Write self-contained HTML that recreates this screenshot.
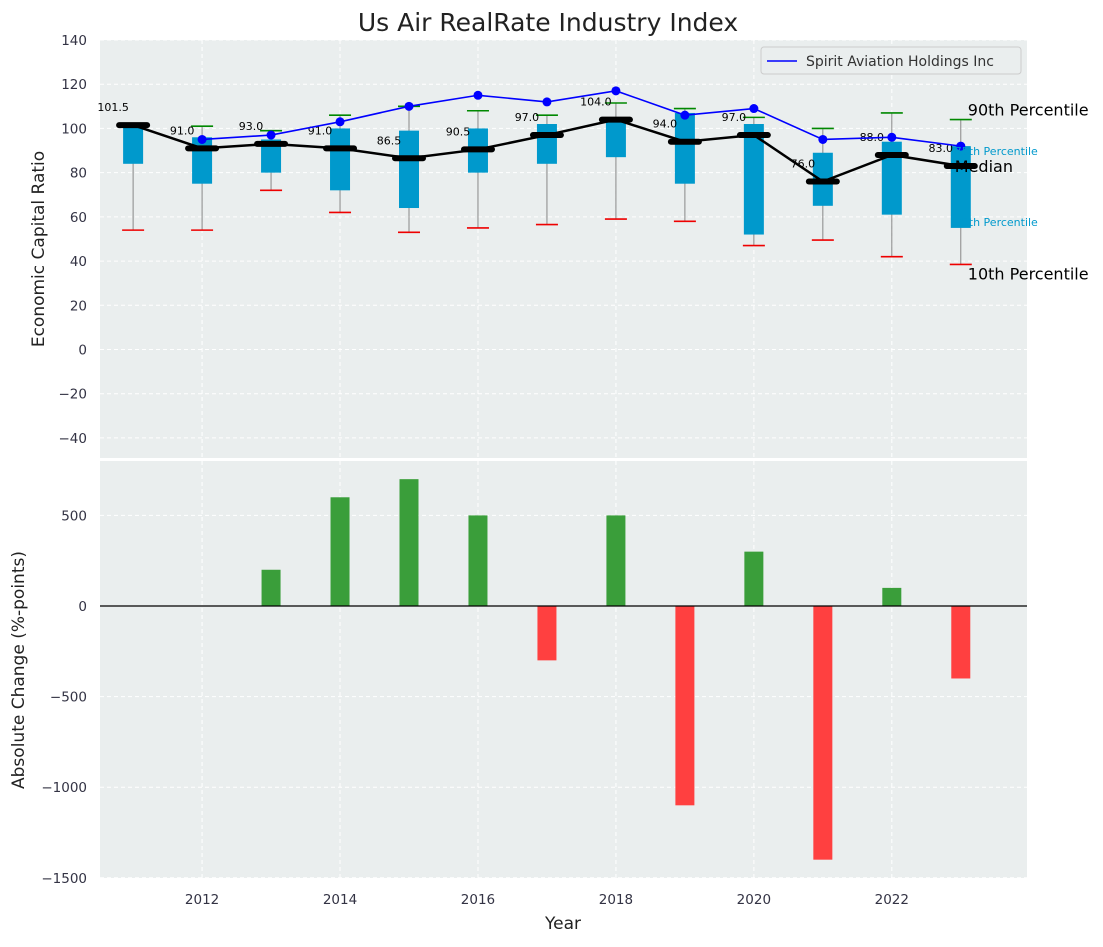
<!DOCTYPE html>
<html><head><meta charset="utf-8"><style>
body{margin:0;background:#fff;font-family:"Liberation Sans","DejaVu Sans",sans-serif}
svg text{font-family:"DejaVu Sans","Liberation Sans",sans-serif}
</style></head><body>
<svg id="c" width="1103" height="942" xmlns="http://www.w3.org/2000/svg"></svg>
<script>
const years=[2011,2012,2013,2014,2015,2016,2017,2018,2019,2020,2021,2022,2023];
const medians=[101.5,91,93,91,86.5,90.5,97,104,94,97,76,88,83];
const p25=[84,75,80,72,64,80,84,87,75,52,65,61,55];
const p75=[101,96,95,100,99,100,102,105,107,102,89,94,92];
const p10=[54,54,72,62,53,55,56.5,59,58,47,49.5,42,38.5];
const p90=[101.5,101,99,106,110,108,106,111.5,109,105,100,107,104];
const company=[null,95,97,103,110,115,112,117,106,109,95,96,92];
const changes=[null,null,200,600,700,500,-300,500,-1100,300,-1400,100,-400];
const topTicks=[-40,-20,0,20,40,60,80,100,120,140];
const botTicks=[-1500,-1000,-500,0,500];
const xTicks=[2012,2014,2016,2018,2020,2022];

const L=100,R=1027;
const X=v=>L+(v-2010.52)*(R-L)/(2023.96-2010.52);
const Y1=v=>349.5-v*2.2107;
const Y2=v=>606-v*0.1812;
const svg=document.getElementById('c');
const NS='http://www.w3.org/2000/svg';
function el(t,a,txt){const e=document.createElementNS(NS,t);for(const k in a)e.setAttribute(k,a[k]);if(txt!=null)e.textContent=txt;svg.appendChild(e);return e;}

let e;
e=el('rect',{x:L,y:40,width:R-L,height:418,fill:'#eaeeee'});


e=el('rect',{x:L,y:461,width:R-L,height:417,fill:'#eaeeee'});



xTicks.forEach(t=>{
  el('line',{x1:X(t),x2:X(t),y1:40,y2:458,stroke:'#fff','stroke-dasharray':'4,3'});
  el('line',{x1:X(t),x2:X(t),y1:461,y2:878,stroke:'#fff','stroke-dasharray':'4,3'});
  e=el('text',{x:X(t),y:904,'text-anchor':'middle','font-size':13.5,fill:'#334'},t);
  
  
});
topTicks.forEach(t=>{
  el('line',{x1:L,x2:R,y1:Y1(t),y2:Y1(t),stroke:'#fff','stroke-dasharray':'4,3'});
  e=el('text',{x:L-13,y:Y1(t)+5,'text-anchor':'end','font-size':13.5,fill:'#334'},t<0?'\u2212'+(-t):t);
  
  
});
botTicks.forEach(t=>{
  el('line',{x1:L,x2:R,y1:Y2(t),y2:Y2(t),stroke:'#fff','stroke-dasharray':'4,3'});
  e=el('text',{x:L-13,y:Y2(t)+5,'text-anchor':'end','font-size':13.5,fill:'#334'},t<0?'\u2212'+(-t):t);
  
  
});

years.forEach((y,i)=>{
  const x=X(y);
  el('line',{x1:x,x2:x,y1:Y1(p10[i]),y2:Y1(p90[i]),stroke:'#888','stroke-width':1});
  e=el('rect',{x:x-10,y:Y1(p75[i]),width:20,height:Y1(p25[i])-Y1(p75[i]),fill:'#0099cc'});
  
  
  el('line',{x1:x-11,x2:x+11,y1:Y1(p10[i]),y2:Y1(p10[i]),stroke:'#e00','stroke-width':1.6});
  el('line',{x1:x-11,x2:x+11,y1:Y1(p90[i]),y2:Y1(p90[i]),stroke:'#080','stroke-width':1.6});
});
e=el('polyline',{points:years.map((y,i)=>X(y)+','+Y1(medians[i])).join(' '),fill:'none',stroke:'#000','stroke-width':2.5});


years.forEach((y,i)=>{
  e=el('line',{x1:X(y)-14,x2:X(y)+14,y1:Y1(medians[i]),y2:Y1(medians[i]),stroke:'#000','stroke-width':6,'stroke-linecap':'round'});
  
  
  e=el('text',{x:X(y)-20,y:Y1(medians[i])-14,'text-anchor':'middle','font-size':11,fill:'#000'},medians[i].toFixed(1));
  
  
});
const cp=years.map((y,i)=>company[i]==null?null:[X(y),Y1(company[i])]).filter(p=>p);
e=el('polyline',{points:cp.map(p=>p.join(',')).join(' '),fill:'none',stroke:'#0000ff','stroke-width':1.6});


cp.forEach(p=>{e=el('circle',{cx:p[0],cy:p[1],r:4.5,fill:'#0000ff'});

});

const x23=X(2023);
[['90th Percentile',x23+7,Y1(p90[12])-4,16,'#000'],['75th Percentile',x23-6,Y1(p75[12])+9,11,'#0099cc'],['Median',x23-6,Y1(medians[12])+6,16,'#000'],['25th Percentile',x23-6,Y1(p25[12])-2,11,'#0099cc'],['10th Percentile',x23+7,Y1(p10[12])+15,16,'#000']].forEach(a=>{
  e=el('text',{x:a[1],y:a[2],'font-size':a[3],fill:a[4]},a[0]);
  
  
});

e=el('rect',{x:761,y:47,width:260,height:27,fill:'#eaeeee',stroke:'#ccc',rx:3});


el('line',{x1:767,x2:797,y1:61,y2:61,stroke:'#0000ff','stroke-width':1.6});
e=el('text',{x:806,y:66,'font-size':14,fill:'#333'},'Spirit Aviation Holdings Inc');



years.forEach((y,i)=>{
  const v=changes[i]; if(v==null)return;
  const y0=Y2(0),yv=Y2(v);
  e=el('rect',{x:X(y)-9.5,y:Math.min(y0,yv),width:19,height:Math.abs(yv-y0),fill:v>=0?'#3a9e3a':'#ff4040'});
  
  
});
el('line',{x1:L,x2:R,y1:Y2(0),y2:Y2(0),stroke:'#000','stroke-width':1.2});

e=el('text',{x:548,y:31,'text-anchor':'middle','font-size':25,fill:'#222'},'Us Air RealRate Industry Index');


e=el('text',{x:563,y:929,'text-anchor':'middle','font-size':17,fill:'#222'},'Year');


e=el('text',{x:0,y:0,'text-anchor':'middle','font-size':17,fill:'#222',transform:'translate(44,249) rotate(-90)'},'Economic Capital Ratio');


e=el('text',{x:0,y:0,'text-anchor':'middle','font-size':17,fill:'#222',transform:'translate(24,670) rotate(-90)'},'Absolute Change (%-points)');


</script>
</body></html>
